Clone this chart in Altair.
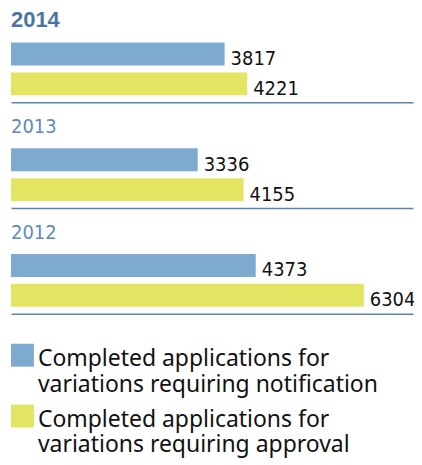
import altair as alt
import pandas as pd

years = ["2014", "2013", "2012"]
notification = [3817, 3336, 4373]
approval = [4221, 4155, 6304]
series = [
    "Completed applications for variations requiring notification",
    "Completed applications for variations requiring approval",
]
legend_lines = [
    "Completed applications for\nvariations requiring notification",
    "Completed applications for\nvariations requiring approval",
]

BLUE = "#7eaad0"
YELLOW = "#e3e462"
RULE = "#5a85b0"
LABEL_FONT = "Liberation Sans Narrow, DejaVu Sans Condensed, Liberation Sans, sans-serif"

rows = []
for yr, n, a in zip(years, notification, approval):
    rows.append({"year": yr, "series": series[0], "value": n})
    rows.append({"year": yr, "series": series[1], "value": a})
df = pd.DataFrame(rows)

color_scale = alt.Scale(domain=series, range=[BLUE, YELLOW])


def panel(year, bold):
    base = alt.Chart(df).transform_filter(alt.datum.year == year).encode(
        y=alt.Y("series:N", sort=series, axis=None,
                scale=alt.Scale(paddingInner=7 / 30, paddingOuter=0)),
    )
    bars = base.mark_bar().encode(
        x=alt.X("value:Q", scale=alt.Scale(domain=[0, 7183], nice=False),
                axis=alt.Axis(labels=False, ticks=False, grid=False, title=None,
                              domainColor=RULE, domainWidth=1.5, offset=7,
                              minExtent=0, maxExtent=0)),
        color=alt.Color("series:N", scale=color_scale, legend=None),
    )
    labels = base.mark_text(align="left", baseline="alphabetic", dx=6, dy=11,
                            font=LABEL_FONT, fontSize=20, color="#111111").encode(
        x="value:Q",
        text=alt.Text("value:Q", format="d"),
    )
    title = alt.Title(
        year, anchor="start",
        font="Liberation Sans" if bold else LABEL_FONT,
        fontSize=22 if bold else 20,
        fontWeight="bold" if bold else "normal",
        color="#4a76a3" if bold else "#5d8bbd",
        offset=10.5 if bold else 11,
    )
    return (bars + labels).properties(width=403, height=53, title=title)


leg_df = pd.DataFrame({"series": series, "label": legend_lines})
leg_base = alt.Chart(leg_df).encode(
    y=alt.Y("series:N", sort=series, axis=None,
            scale=alt.Scale(paddingInner=0, paddingOuter=0)),
)
leg_sq = leg_base.mark_square(size=529, opacity=1).encode(
    x=alt.value(11.5),
    color=alt.Color("series:N", scale=color_scale, legend=None),
)
leg_tx = leg_base.mark_text(align="left", baseline="alphabetic", dy=10.5,
                            lineBreak="\n", lineHeight=26,
                            font="Noto Sans", fontSize=23, color="#111111").encode(
    x=alt.value(27),
    text="label:N",
)
legend = (leg_sq + leg_tx).properties(width=403, height=122)

panels = alt.vconcat(
    panel("2014", True), panel("2013", False), panel("2012", False),
    spacing=15,
)

chart = alt.vconcat(panels, legend, spacing=11).properties(
    padding={"left": 3, "top": 0, "right": -2, "bottom": 0}
).configure_view(stroke=None)

chart.save("out.html", embed_options={"renderer": "svg", "actions": False})
